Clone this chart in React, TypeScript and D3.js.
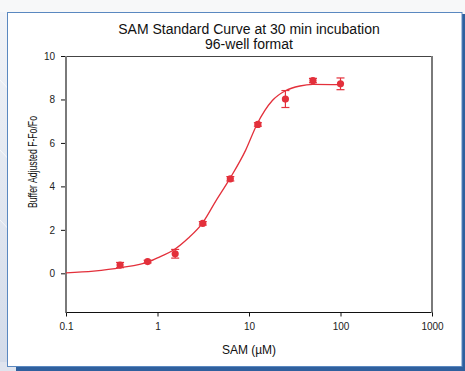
import { useEffect, useRef } from "react";
import * as d3 from "d3";

// measured points (SAM concentration in µM)
const concentrations = [0.39, 0.78, 1.56, 3.125, 6.25, 12.5, 25, 50, 100];
const meanSignal = [0.38, 0.54, 0.9, 2.3, 4.35, 6.85, 8.02, 8.87, 8.72];
const errSignal = [0.12, 0.06, 0.2, 0.08, 0.1, 0.08, 0.39, 0.1, 0.27];

// fitted curve
const fitX = [0.1, 0.2, 0.4, 0.8, 1.06, 1.5, 2.16, 3.1, 4.3, 6.2, 9.2, 12.2, 18, 25, 36, 50, 100];
const fitY = [0.02, 0.1, 0.26, 0.53, 0.76, 1.07, 1.61, 2.31, 3.3, 4.37, 5.67, 6.85, 7.95, 8.4, 8.62, 8.69, 8.68];

const xTicks = [0.1, 1, 10, 100, 1000];
const yTicks = [0, 2, 4, 6, 8, 10];

const titleLines = ["SAM Standard Curve at 30 min incubation", "96-well format"];
const xLabel = "SAM (µM)";
const yLabel = "Buffer Adjusted F-Fo/Fo";

const W = 465;
const H = 371;
const RED = "#e3303b";
const FONT = "'Liberation Sans', Arial, sans-serif";

export default function App() {
  const svgRef = useRef<SVGSVGElement>(null);

  useEffect(() => {
    if (!svgRef.current) return;
    const svg = d3.select(svgRef.current);
    svg.selectAll("*").remove();

    const plot = { left: 66, right: 432, top: 56, bottom: 312 };
    const x = d3.scaleLog().domain([0.1, 1000]).range([plot.left, plot.right]);
    const y = d3.scaleLinear().domain([-1.78, 10]).range([plot.bottom, plot.top]);

    // page background + framed card
    const defs = svg.append("defs");
    const bg = defs
      .append("linearGradient")
      .attr("id", "bg-grad")
      .attr("x1", "0")
      .attr("y1", "0")
      .attr("x2", "0")
      .attr("y2", "1");
    bg.append("stop").attr("offset", "0%").attr("stop-color", "#f1f3f7");
    bg.append("stop").attr("offset", "100%").attr("stop-color", "#d3dbe9");

    svg.append("rect").attr("width", W).attr("height", H).attr("fill", "#f7f8f9");
    svg.append("rect").attr("x", 0).attr("y", 12).attr("width", 8).attr("height", H - 12).attr("fill", "url(#bg-grad)");
    svg.append("rect").attr("x", 0).attr("y", 362).attr("width", 20).attr("height", 9).attr("fill", "#dfe4ee");
    [160, 230, 300].forEach((r) =>
      svg
        .append("path")
        .attr("d", `M0,${380 - r} A${r},${r} 0 0,1 ${r * 0.25},${380}`)
        .attr("fill", "none")
        .attr("stroke", "rgba(255,255,255,0.8)")
        .attr("stroke-width", 0.8),
    );

    svg.append("rect").attr("x", 462).attr("y", 14).attr("width", 3).attr("height", H - 14).attr("fill", "#2f609e");
    svg.append("rect").attr("x", 16).attr("y", 367).attr("width", W - 16).attr("height", 4).attr("fill", "#2f609e");
    svg
      .append("rect")
      .attr("x", 7.5)
      .attr("y", 12.5)
      .attr("width", 454.5)
      .attr("height", 354)
      .attr("fill", "#ffffff")
      .attr("stroke", "#5a88c0")
      .attr("stroke-width", 1);

    // title
    svg
      .append("g")
      .selectAll("text")
      .data(titleLines)
      .join("text")
      .attr("x", (plot.left + plot.right) / 2)
      .attr("y", (_, i) => 34 + i * 15)
      .attr("text-anchor", "middle")
      .attr("font-family", FONT)
      .attr("font-size", 14)
      .attr("fill", "#111")
      .text((d) => d);

    // plot frame
    svg.append("line").attr("x1", plot.left).attr("x2", plot.right).attr("y1", plot.top + 0.5).attr("y2", plot.top + 0.5).attr("stroke", "#444").attr("stroke-width", 1);
    svg.append("line").attr("x1", plot.left).attr("x2", plot.right).attr("y1", plot.bottom + 0.5).attr("y2", plot.bottom + 0.5).attr("stroke", "#111").attr("stroke-width", 1);
    svg.append("line").attr("x1", plot.left).attr("x2", plot.left).attr("y1", plot.top).attr("y2", plot.bottom + 1).attr("stroke", "#7a7a7a").attr("stroke-width", 2);
    svg.append("line").attr("x1", plot.right).attr("x2", plot.right).attr("y1", plot.top).attr("y2", plot.bottom + 1).attr("stroke", "#7a7a7a").attr("stroke-width", 2);

    // axes
    svg
      .append("g")
      .attr("transform", `translate(0,${plot.bottom + 0.5})`)
      .call(d3.axisBottom(x).tickValues(xTicks).tickSize(4).tickPadding(6).tickFormat((d) => String(d)))
      .call((g) => g.select(".domain").remove())
      .call((g) => g.selectAll(".tick line").attr("stroke", "#111"))
      .call((g) => g.selectAll(".tick text").attr("fill", "#222").attr("font-size", 10).attr("font-family", FONT));

    svg
      .append("g")
      .attr("transform", `translate(${plot.left - 1},0)`)
      .call(d3.axisLeft(y).tickValues(yTicks).tickSize(4).tickPadding(6))
      .call((g) => g.select(".domain").remove())
      .call((g) => g.selectAll(".tick line").attr("stroke", "#111"))
      .call((g) => g.selectAll(".tick text").attr("fill", "#222").attr("font-size", 10).attr("font-family", FONT));

    // axis titles
    svg
      .append("text")
      .attr("x", (plot.left + plot.right) / 2)
      .attr("y", 354)
      .attr("text-anchor", "middle")
      .attr("font-family", FONT)
      .attr("font-size", 12)
      .attr("fill", "#111")
      .text(xLabel);

    svg
      .append("text")
      .attr("transform", "translate(37,162) rotate(-90)")
      .attr("text-anchor", "middle")
      .attr("font-family", FONT)
      .attr("font-size", 12.5)
      .attr("textLength", 92)
      .attr("lengthAdjust", "spacingAndGlyphs")
      .attr("fill", "#111")
      .text(yLabel);

    // fitted curve
    const fit = fitX.map((v, i) => [v, fitY[i]] as [number, number]);
    const line = d3
      .line<[number, number]>()
      .x((d) => x(d[0]))
      .y((d) => y(d[1]))
      .curve(d3.curveMonotoneX);
    svg.append("path").datum(fit).attr("d", line).attr("fill", "none").attr("stroke", RED).attr("stroke-width", 1.3);

    // error bars + markers
    const pts = concentrations.map((c, i) => ({ c, m: meanSignal[i], e: errSignal[i] }));
    const eb = svg.append("g").attr("stroke", RED).attr("stroke-width", 1.2);
    pts.forEach((d) => {
      const cx = x(d.c);
      eb.append("line").attr("x1", cx).attr("x2", cx).attr("y1", y(d.m - d.e)).attr("y2", y(d.m + d.e));
      eb.append("line").attr("x1", cx - 4).attr("x2", cx + 4).attr("y1", y(d.m - d.e)).attr("y2", y(d.m - d.e));
      eb.append("line").attr("x1", cx - 4).attr("x2", cx + 4).attr("y1", y(d.m + d.e)).attr("y2", y(d.m + d.e));
    });

    svg
      .append("g")
      .selectAll("circle")
      .data(pts)
      .join("circle")
      .attr("cx", (d) => x(d.c))
      .attr("cy", (d) => y(d.m))
      .attr("r", 3.6)
      .attr("fill", RED);
  }, []);

  return (
    <div style={{ position: "absolute", left: 0, top: 0, width: W, height: H }}>
      <svg ref={svgRef} width={W} height={H} style={{ display: "block" }} role="img" aria-label="SAM standard curve" />
    </div>
  );
}
